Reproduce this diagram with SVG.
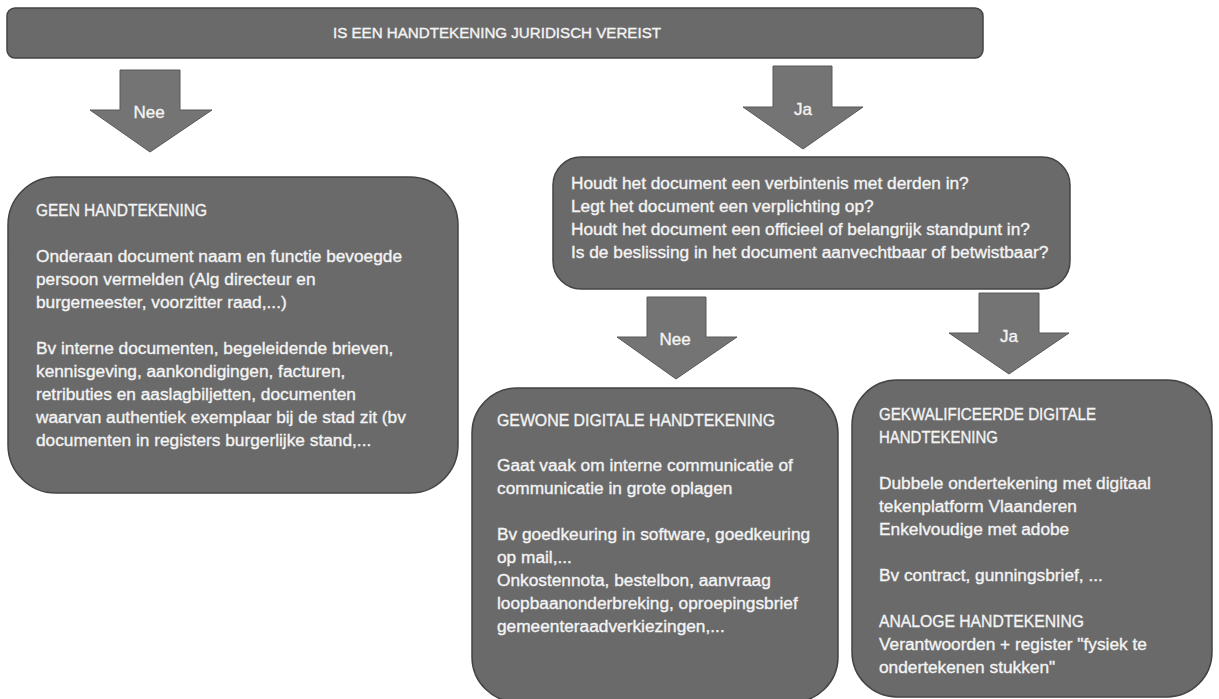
<svg xmlns="http://www.w3.org/2000/svg" width="1219" height="699" viewBox="0 0 1219 699">
<style>
.box{fill:#6a6a6a;stroke:#444444;stroke-width:1.5}
.arr{fill:#747474;stroke:#585858;stroke-width:1}
.t{font-family:"Liberation Sans",Arial,sans-serif;font-size:17.3px;fill:#f4f4f4;stroke:#f4f4f4;stroke-width:0.35}
.lbl{font-family:"Liberation Sans",Arial,sans-serif;font-size:17px;fill:#f4f4f4;stroke:#f4f4f4;stroke-width:0.35;text-anchor:middle}
.hd{font-family:"Liberation Sans",Arial,sans-serif;font-size:14px;fill:#f4f4f4;stroke:#f4f4f4;stroke-width:0.35}
</style>
<rect width="1219" height="699" fill="#ffffff"/>
<g id="connectors">
  <g id="arrow-nee-1">
    <polygon class="arr" points="120,70 180,70 180,110 212,110 150,152 90,110 120,110"/>
    <text class="lbl" x="149" y="118">Nee</text>
  </g>
  <g id="arrow-ja-1">
    <polygon class="arr" points="773,66 832,66 832,107 863,107 803,149 743,107 773,107"/>
    <text class="lbl" x="803" y="115">Ja</text>
  </g>
  <g id="arrow-nee-2">
    <polygon class="arr" points="647,297 706,297 706,337 737,337 676,379 617,337 647,337"/>
    <text class="lbl" x="675" y="345">Nee</text>
  </g>
  <g id="arrow-ja-2">
    <polygon class="arr" points="979,293 1039,293 1039,333 1069,333 1009,374 949,333 979,333"/>
    <text class="lbl" x="1009" y="342">Ja</text>
  </g>
</g>
<g id="node-top">
  <rect class="box" x="7" y="8" width="976" height="50" rx="8"/>
  <text class="hd" x="333" y="38" textLength="328" lengthAdjust="spacingAndGlyphs">IS EEN HANDTEKENING JURIDISCH VEREIST</text>
</g>
<g id="node-geen">
  <rect class="box" x="8" y="177" width="450" height="316" rx="48"/>
  <text class="t" x="36" y="216" textLength="171" lengthAdjust="spacingAndGlyphs">GEEN HANDTEKENING</text>
  <text class="t" x="36" y="262">Onderaan document naam en functie bevoegde</text>
  <text class="t" x="36" y="285">persoon vermelden (Alg directeur en</text>
  <text class="t" x="36" y="308">burgemeester, voorzitter raad,...)</text>
  <text class="t" x="36" y="354">Bv interne documenten, begeleidende brieven,</text>
  <text class="t" x="36" y="377">kennisgeving, aankondigingen, facturen,</text>
  <text class="t" x="36" y="400">retributies en aaslagbiljetten, documenten</text>
  <text class="t" x="36" y="423">waarvan authentiek exemplaar bij de stad zit (bv</text>
  <text class="t" x="36" y="446">documenten in registers burgerlijke stand,...</text>
</g>
<g id="node-vragen">
  <rect class="box" x="553" y="157" width="517" height="132" rx="28"/>
  <text class="t" x="571" y="189">Houdt het document een verbintenis met derden in?</text>
  <text class="t" x="571" y="212">Legt het document een verplichting op?</text>
  <text class="t" x="571" y="235">Houdt het document een officieel of belangrijk standpunt in?</text>
  <text class="t" x="571" y="258">Is de beslissing in het document aanvechtbaar of betwistbaar?</text>
</g>
<g id="node-gewone">
  <rect class="box" x="472" y="388" width="366" height="314" rx="45"/>
  <text class="t" x="497" y="426" textLength="278" lengthAdjust="spacingAndGlyphs">GEWONE DIGITALE HANDTEKENING</text>
  <text class="t" x="497" y="471">Gaat vaak om interne communicatie of</text>
  <text class="t" x="497" y="494">communicatie in grote oplagen</text>
  <text class="t" x="497" y="540">Bv goedkeuring in software, goedkeuring</text>
  <text class="t" x="497" y="563">op mail,...</text>
  <text class="t" x="497" y="586">Onkostennota, bestelbon, aanvraag</text>
  <text class="t" x="497" y="609">loopbaanonderbreking, oproepingsbrief</text>
  <text class="t" x="497" y="632">gemeenteraadverkiezingen,...</text>
</g>
<g id="node-gekwalificeerd">
  <rect class="box" x="852" y="380" width="360" height="317" rx="45"/>
  <text class="t" x="879" y="420" textLength="217" lengthAdjust="spacingAndGlyphs">GEKWALIFICEERDE DIGITALE</text>
  <text class="t" x="879" y="443" textLength="119" lengthAdjust="spacingAndGlyphs">HANDTEKENING</text>
  <text class="t" x="879" y="489">Dubbele ondertekening met digitaal</text>
  <text class="t" x="879" y="512">tekenplatform Vlaanderen</text>
  <text class="t" x="879" y="535">Enkelvoudige met adobe</text>
  <text class="t" x="879" y="581">Bv contract, gunningsbrief, ...</text>
  <text class="t" x="879" y="627" textLength="205" lengthAdjust="spacingAndGlyphs">ANALOGE HANDTEKENING</text>
  <text class="t" x="879" y="650">Verantwoorden + register "fysiek te</text>
  <text class="t" x="879" y="673">ondertekenen stukken"</text>
</g>
</svg>
